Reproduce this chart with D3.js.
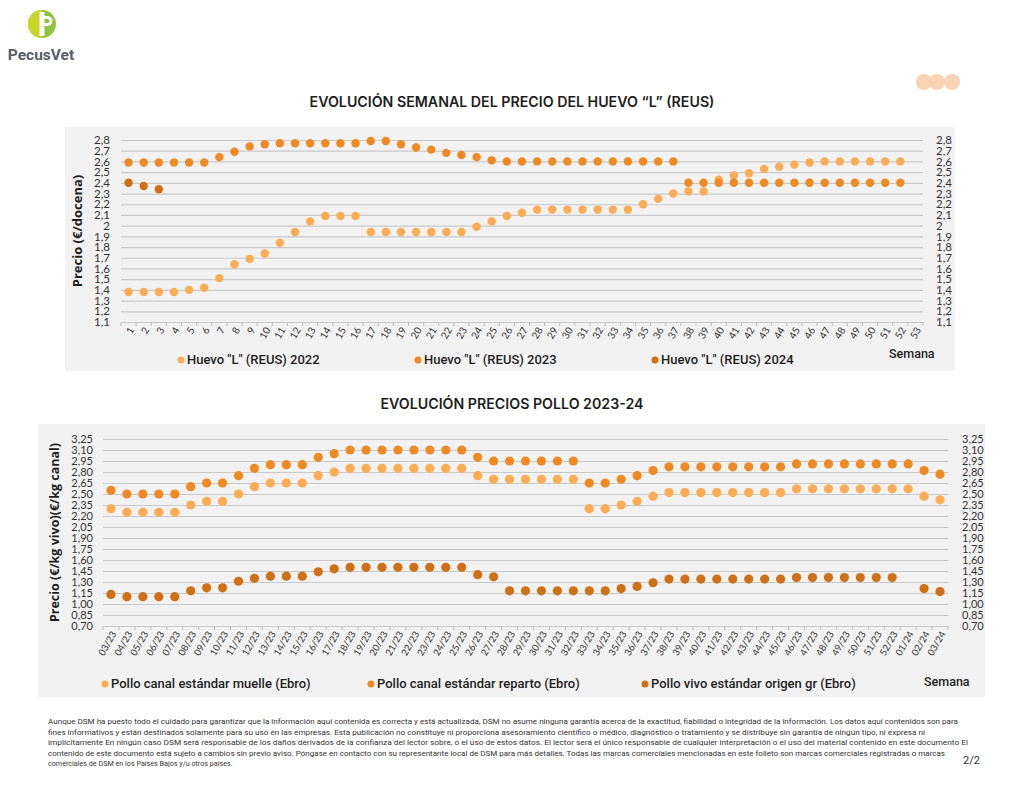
<!DOCTYPE html>
<html>
<head>
<meta charset="utf-8">
<script src="https://cdn.jsdelivr.net/npm/d3@7"></script>
<style>
  body { margin: 0; background: #fff; }
  svg { display: block; }
</style>
</head>
<body>
<div id="chart"></div>
<script>
const width = 1024;
const height = 791;

// --- huevo data (weeks 1..53)
const eggWeeks = [1,2,3,4,5,6,7,8,9,10,11,12,13,14,15,16,17,18,19,20,21,22,23,24,25,26,27,28,29,30,31,32,33,34,35,36,37,38,39,40,41,42,43,44,45,46,47,48,49,50,51,52,53];
const egg2022 = [1.38,1.38,1.38,1.38,1.40,1.42,1.51,1.64,1.69,1.74,1.84,1.94,2.04,2.09,2.09,2.09,
  1.94,1.94,1.94,1.94,1.94,1.94,1.94,1.99,2.04,2.09,2.12,2.15,2.15,2.15,2.15,2.15,2.15,2.15,
  2.20,2.25,2.30,2.32,2.32,2.43,2.47,2.49,2.53,2.55,2.57,2.59,2.60,2.60,2.60,2.60,2.60,2.60,null];
const egg2023 = [2.59,2.59,2.59,2.59,2.59,2.59,2.64,2.69,2.74,2.76,2.77,2.77,2.77,2.77,2.77,2.77,
  2.79,2.79,2.76,2.73,2.71,2.68,2.66,2.64,2.61,2.60,2.60,2.60,2.60,2.60,2.60,2.60,2.60,2.60,
  2.60,2.60,2.60,2.40,2.40,2.40,2.40,2.40,2.40,2.40,2.40,2.40,2.40,2.40,2.40,2.40,2.40,2.40,null];
const egg2024 = [2.40,2.37,2.34];
const eggTicks = [1.1,1.2,1.3,1.4,1.5,1.6,1.7,1.8,1.9,2.0,2.1,2.2,2.3,2.4,2.5,2.6,2.7,2.8];
const eggNames = ['Huevo "L" (REUS) 2022', 'Huevo "L" (REUS) 2023', 'Huevo "L" (REUS) 2024'];

// --- pollo data (weeks 03/23 .. 03/24)
const polloWeeks = ["03/23","04/23","05/23","06/23","07/23","08/23","09/23","10/23","11/23","12/23","13/23","14/23","15/23","16/23","17/23","18/23","19/23","20/23","21/23","22/23","23/23","24/23","25/23","26/23","27/23","28/23","29/23","30/23","31/23","32/23","33/23","34/23","35/23","36/23","37/23","38/23","39/23","40/23","41/23","42/23","43/23","44/23","45/23","46/23","47/23","48/23","49/23","50/23","51/23","52/23","01/24","02/24","03/24"];
const polloMuelle = [2.30,2.25,2.25,2.25,2.25,2.35,2.40,2.40,2.50,2.60,2.65,2.65,2.65,2.75,2.80,2.85,
  2.85,2.85,2.85,2.85,2.85,2.85,2.85,2.75,2.70,2.70,2.70,2.70,2.70,2.70,2.30,2.30,2.35,2.40,2.47,2.52,
  2.52,2.52,2.52,2.52,2.52,2.52,2.52,2.57,2.57,2.57,2.57,2.57,2.57,2.57,2.57,2.47,2.42];
const polloReparto = [2.55,2.50,2.50,2.50,2.50,2.60,2.65,2.65,2.75,2.85,2.90,2.90,2.90,3.00,3.05,3.10,
  3.10,3.10,3.10,3.10,3.10,3.10,3.10,3.00,2.95,2.95,2.95,2.95,2.95,2.95,2.65,2.65,2.70,2.75,2.82,2.87,
  2.87,2.87,2.87,2.87,2.87,2.87,2.87,2.91,2.91,2.91,2.91,2.91,2.91,2.91,2.91,2.82,2.77];
const polloVivo = [1.13,1.10,1.10,1.10,1.10,1.18,1.22,1.22,1.31,1.35,1.38,1.38,1.38,1.44,1.48,1.50,
  1.50,1.50,1.50,1.50,1.50,1.50,1.50,1.40,1.37,1.18,1.18,1.18,1.18,1.18,1.18,1.18,1.21,1.24,1.29,1.34,
  1.34,1.34,1.34,1.34,1.34,1.34,1.34,1.36,1.36,1.36,1.36,1.36,1.36,1.36,null,1.21,1.17];
const polloTicks = [0.70,0.85,1.00,1.15,1.30,1.45,1.60,1.75,1.90,2.05,2.20,2.35,2.50,2.65,2.80,2.95,3.10,3.25];
const polloNames = ["Pollo canal estándar muelle (Ebro)", "Pollo canal estándar reparto (Ebro)", "Pollo vivo estándar origen gr (Ebro)"];

const colors = ["#fcac52", "#ee8a21", "#cf7017"];

const disclaimer = [
  "Aunque DSM ha puesto todo el cuidado para garantizar que la información aquí contenida es correcta y está actualizada, DSM no asume ninguna garantía acerca de la exactitud, fiabilidad o integridad de la información. Los datos aquí contenidos son para",
  "fines informativos y están destinados solamente para su uso en las empresas. Esta publicación no constituye ni proporciona asesoramiento científico o médico, diagnóstico o tratamiento y se distribuye sin garantía de ningún tipo, ni expresa ni",
  "implícitamente En ningún caso DSM será responsable de los daños derivados de la confianza del lector sobre, o el uso de estos datos. El lector será el único responsable de cualquier interpretación o el uso del material contenido en este documento El",
  "contenido de este documento está sujeto a cambios sin previo aviso. Póngase en contacto con su representante local de DSM para más detalles. Todas las marcas comerciales mencionadas en este folleto son marcas comerciales registradas o marcas",
  "comerciales de DSM en los Países Bajos y/u otros países."
];
const disclaimerWidths = [910, 877, 920, 897, null];

const svg = d3.select("#chart").append("svg")
    .attr("width", width)
    .attr("height", height);

// --- header: logo + dots
const logo = svg.append("g");
logo.append("circle").attr("cx", 42).attr("cy", 24).attr("r", 14).attr("fill", "#8fc43e");
logo.append("path").attr("d", "M42,10 A14,14 0 0,0 42,38 Z").attr("fill", "#cbd62a");
logo.append("rect").attr("x", 39.5).attr("y", 12).attr("width", 5).attr("height", 24).attr("fill", "#fff");
logo.append("path").attr("d", "M44.5,16 h3 a5,5 0 0,1 0,10 h-3 v-3 h3 a2,2 0 0,0 0,-4 h-3 z").attr("fill", "#fff");
logo.append("text").attr("x", 41).attr("y", 60).attr("text-anchor", "middle")
    .style("font-family", "Roboto").style("font-weight", "bold").style("font-size", "15.5px")
    .attr("fill", "#565d66").text("PecusVet");

svg.selectAll(".deco").data([924, 937, 952]).join("circle")
    .attr("cx", d => d).attr("cy", 82).attr("r", 8)
    .attr("fill", "#f7cfad").attr("opacity", 0.9);

function drawChart(opt) {
    const g = svg.append("g");
    g.append("rect")
        .attr("x", opt.panel[0]).attr("y", opt.panel[1])
        .attr("width", opt.panel[2]).attr("height", opt.panel[3])
        .attr("fill", "#f2f2f2");

    g.append("text")
        .attr("x", 512).attr("y", opt.titleY).attr("text-anchor", "middle")
        .style("font-family", "Inter").style("font-weight", 600).style("font-size", "14.2px")
        .attr("fill", "#1e1e1e").text(opt.title);

    const x = d3.scaleBand().domain(opt.cats).range([opt.x0, opt.x1]);
    const y = d3.scaleLinear().domain([opt.ticks[0], opt.ticks[opt.ticks.length - 1]]).range([opt.y1, opt.y0]);

    // gridlines
    g.append("g")
        .attr("transform", `translate(${opt.x0},0)`)
        .call(d3.axisLeft(y).tickValues(opt.ticks).tickSize(-(opt.x1 - opt.x0)).tickFormat(""))
        .call(a => a.select(".domain").remove())
        .call(a => a.selectAll("line").attr("stroke", "#c9c9c9").attr("stroke-width", 1.2));

    const labelStyle = a => {
        a.select(".domain").remove();
        a.selectAll("text")
            .style("font-family", "Lato").style("font-size", opt.yFont + "px").attr("fill", "#333");
    };

    g.append("g")
        .attr("transform", `translate(${opt.yLabelLeft},0)`)
        .call(d3.axisLeft(y).tickValues(opt.ticks).tickSize(0).tickPadding(0).tickFormat(opt.fmt))
        .call(labelStyle);

    g.append("g")
        .attr("transform", `translate(${opt.yLabelRight},0)`)
        .call(d3.axisRight(y).tickValues(opt.ticks).tickSize(0).tickPadding(0).tickFormat(opt.fmt))
        .call(labelStyle);

    // x axis
    const xa = g.append("g")
        .attr("transform", `translate(0,${opt.y1})`)
        .call(d3.axisBottom(x).tickSize(0).tickPadding(0));
    xa.select(".domain").attr("stroke", "#c9c9c9");
    xa.selectAll("text")
        .attr("transform", `translate(3,${opt.xLabelDy}) rotate(-60)`)
        .attr("text-anchor", "end")
        .attr("dy", "0.35em")
        .style("font-family", "Lato").style("font-size", opt.xFont + "px").attr("fill", "#333");
    g.append("g").selectAll("line")
        .data(opt.cats.concat([null]))
        .join("line")
        .attr("x1", (d, i) => opt.x0 + i * x.step()).attr("x2", (d, i) => opt.x0 + i * x.step())
        .attr("y1", opt.y1).attr("y2", opt.y1 + 4)
        .attr("stroke", "#bdbdbd");

    g.append("text")
        .attr("transform", `translate(${opt.yTitleX},${(opt.y0 + opt.y1) / 2}) rotate(-90)`)
        .attr("text-anchor", "middle")
        .style("font-family", "Open Sans").style("font-weight", "bold").style("font-size", opt.yTitleSize + "px")
        .attr("fill", "#1e1e1e").text(opt.yTitle);

    // dots
    opt.series.forEach((s, k) => {
        const pts = s.map((v, i) => ({ c: opt.cats[i], v: v })).filter(d => d.v != null);
        g.append("g").selectAll("circle")
            .data(pts)
            .join("circle")
            .attr("cx", d => x(d.c) + x.bandwidth() / 2)
            .attr("cy", d => y(d.v))
            .attr("r", opt.r)
            .attr("fill", colors[k]);
    });

    // legend
    const lg = g.append("g");
    opt.names.forEach((n, k) => {
        lg.append("circle").attr("cx", opt.legendX[k]).attr("cy", opt.legendY - 4).attr("r", 3.5).attr("fill", colors[k]);
        lg.append("text").attr("x", opt.legendX[k] + 6).attr("y", opt.legendY)
            .style("font-family", "Roboto").style("font-weight", 500).style("font-size", "13px")
            .attr("fill", "#1e1e1e").text(n);
    });
    lg.append("text").attr("x", opt.semanaX).attr("y", opt.semanaY)
        .style("font-family", "Roboto").style("font-weight", 500).style("font-size", "12.5px")
        .attr("fill", "#1e1e1e").text("Semana");
}

const fmtEgg = d => d3.format(".1f")(d).replace(".0", "").replace(".", ",");
const fmtPollo = d => d3.format(".2f")(d).replace(".", ",");

drawChart({
    panel: [65, 127, 890, 244],
    title: "EVOLUCIÓN SEMANAL DEL PRECIO DEL HUEVO “L” (REUS)",
    titleY: 107,
    cats: eggWeeks,
    ticks: eggTicks,
    x0: 121, x1: 923, y0: 140, y1: 322,
    yLabelLeft: 110, yLabelRight: 936,
    yFont: 11.5, xFont: 10, xLabelDy: 6,
    fmt: fmtEgg,
    yTitle: "Precio (€/docena)", yTitleX: 82, yTitleSize: 13,
    series: [egg2022, egg2023, egg2024],
    r: 4.2,
    names: eggNames,
    legendX: [181, 418, 655], legendY: 364,
    semanaX: 889, semanaY: 358
});

drawChart({
    panel: [38, 424, 947, 273],
    title: "EVOLUCIÓN PRECIOS POLLO 2023-24",
    titleY: 409,
    cats: polloWeeks,
    ticks: polloTicks,
    x0: 103, x1: 948, y0: 439, y1: 626,
    yLabelLeft: 93, yLabelRight: 962,
    yFont: 11, xFont: 9.5, xLabelDy: 6,
    fmt: fmtPollo,
    yTitle: "Precio (€/kg vivo)(€/kg canal)", yTitleX: 59, yTitleSize: 12.5,
    series: [polloMuelle, polloReparto, polloVivo],
    r: 4.6,
    names: polloNames,
    legendX: [105, 371, 645], legendY: 688,
    semanaX: 924, semanaY: 686
});

// --- footer
const foot = svg.append("g");
disclaimer.forEach((line, i) => {
    const t = foot.append("text")
        .attr("x", 48).attr("y", 724 + i * 10.6)
        .style("font-family", "Roboto").style("font-size", "7.2px")
        .attr("fill", "#333").text(line);
    if (disclaimerWidths[i]) t.attr("textLength", disclaimerWidths[i]).attr("lengthAdjust", "spacingAndGlyphs");
});
foot.append("text").attr("x", 963).attr("y", 764)
    .style("font-family", "Roboto").style("font-size", "11px")
    .attr("fill", "#333").text("2/2");
</script>
</body>
</html>
